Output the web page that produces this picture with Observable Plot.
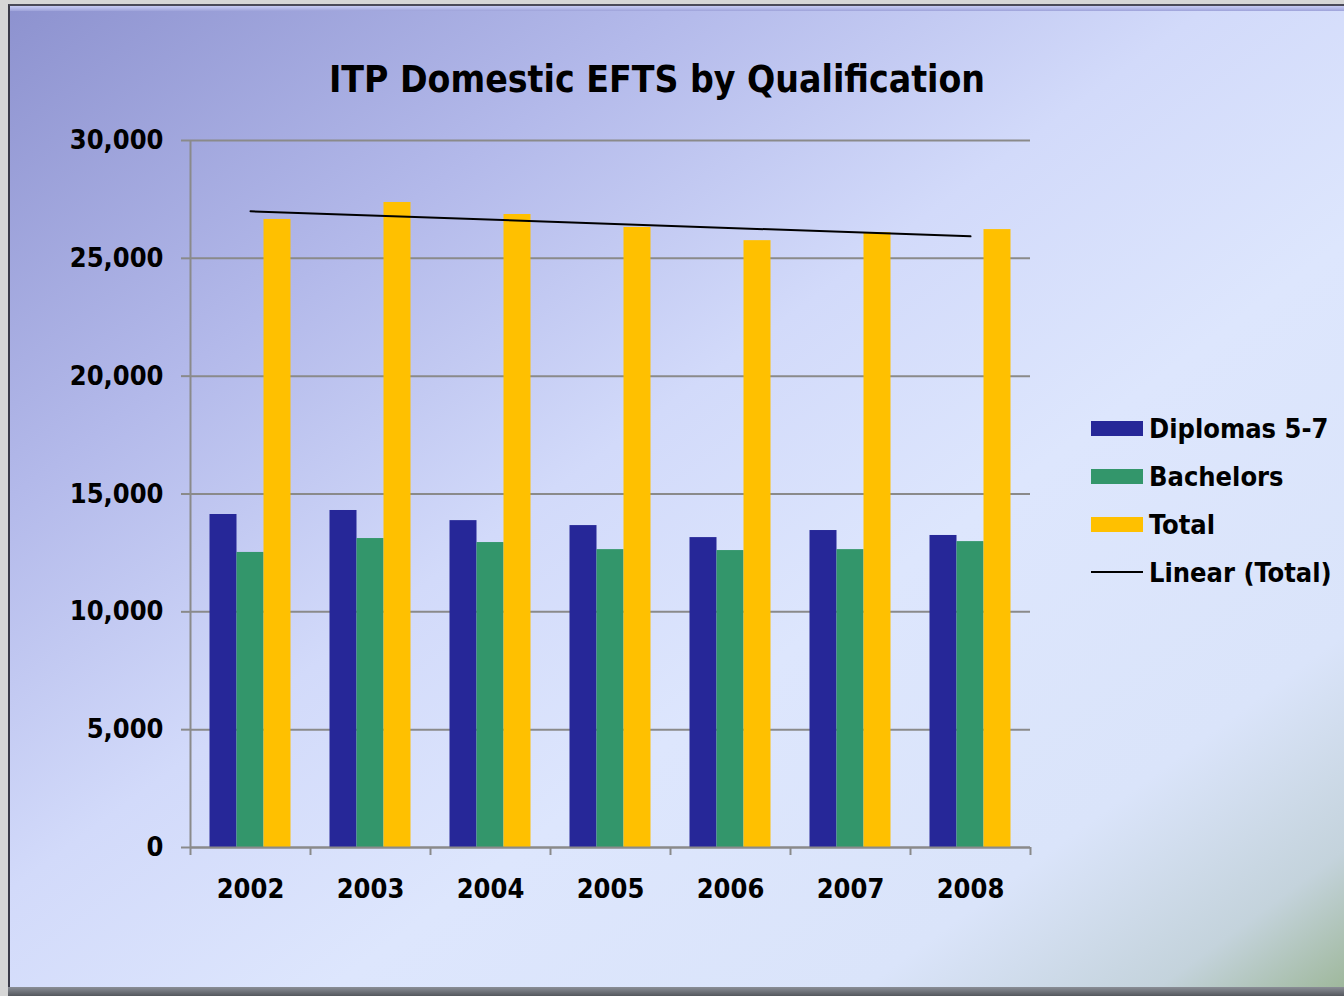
<!DOCTYPE html>
<html><head><meta charset="utf-8">
<script src="https://cdn.jsdelivr.net/npm/d3@7"></script>
<script src="https://cdn.jsdelivr.net/npm/@observablehq/plot@0.6"></script>
<style>
html,body{margin:0;padding:0;}
body{width:1344px;height:996px;position:relative;overflow:hidden;background:#d6d6d6;font-family:"DejaVu Sans Condensed","DejaVu Sans",Verdana,sans-serif;font-stretch:condensed;}
#slide{position:absolute;left:8px;top:4px;width:1336px;height:984px;box-sizing:border-box;
  border-left:2px solid #3a3a48;border-top:2px solid #4a4a58;
  background:linear-gradient(to bottom right,#8d92cf 0%,#b3b9ea 25%,#d2dafa 45%,#dde6fd 62%,#dae4fa 82%,#c4d3dc 93%,#9fb89c 100%);}
#bevel{position:absolute;left:10px;top:6px;width:1334px;height:5px;background:linear-gradient(#c8ccf4,#9ea3da);}
#bottom{position:absolute;left:8px;top:987px;width:1336px;height:9px;background:linear-gradient(#8a8e96,#55585e);}
#title{position:absolute;left:0;width:1314px;top:58px;text-align:center;font-weight:bold;font-size:37px;color:#000;}
#chart{position:absolute;left:0;top:0;}
#legend{position:absolute;left:1091px;top:404px;}
.item{display:flex;align-items:center;height:48px;font-weight:bold;font-size:27px;color:#000;white-space:nowrap;}
.sw{width:52px;height:15px;margin-right:6px;}
.ln{width:52px;height:2px;background:#000;margin-right:6px;}
</style></head>
<body>
<div id="slide"></div>
<div id="bevel"></div>
<div id="bottom"></div>
<div id="title">ITP Domestic EFTS by Qualification</div>
<div id="chart"></div>
<div id="legend"></div>
<script>
const years = [2002, 2003, 2004, 2005, 2006, 2007, 2008];
const series = ["Diplomas 5-7", "Bachelors", "Total"];
const colors = ["#262798", "#33966b", "#ffc000"];
const diplomas = [14130, 14300, 13870, 13660, 13150, 13450, 13240];
const bachelors = [12520, 13110, 12940, 12640, 12600, 12640, 12980];
const total = [26650, 27370, 26860, 26310, 25750, 26090, 26220];
const yTicks = [0, 5000, 10000, 15000, 20000, 25000, 30000];

const values = [diplomas, bachelors, total];
const data = [];
series.forEach((s, i) => years.forEach((y, j) => data.push({year: y, series: s, idx: i, value: values[i][j]})));
const totals = years.map((y, j) => ({year: y, value: total[j]}));

const barW = 0.225;
const xDomain = [years[0] - 0.5, years[years.length - 1] + 0.5];
const bounds = years.map(y => y - 0.5).concat([years[years.length - 1] + 0.5]);
const gridColor = "#8a8a8a";

const plot = Plot.plot({
  width: 1060, height: 960,
  marginLeft: 190, marginRight: 30, marginTop: 140, marginBottom: 113,
  style: {background: "transparent", fontFamily: "'DejaVu Sans Condensed', 'DejaVu Sans', Verdana, sans-serif", fontStretch: "condensed", fontWeight: "bold", fontSize: "27px", color: "#000", overflow: "visible"},
  x: {type: "linear", domain: xDomain},
  y: {domain: [0, 30000]},
  color: {domain: series, range: colors},
  marks: [
    Plot.ruleY(yTicks, {stroke: gridColor, strokeWidth: 2}),
    Plot.axisY({ticks: yTicks, tickSize: 9, tickPadding: 18, stroke: gridColor, strokeWidth: 2, tickFormat: d3.format(","), label: null, fill: "#000"}),
    Plot.axisX({ticks: bounds, tickSize: 8, tickFormat: () => "", stroke: gridColor, strokeWidth: 2, label: null}),
    Plot.axisX({ticks: years, tickSize: 0, tickPadding: 31, tickFormat: d => String(d), label: null, fill: "#000"}),
    Plot.rectY(data, {
      x1: d => d.year + (d.idx - 1.5) * barW,
      x2: d => d.year + (d.idx - 0.5) * barW,
      y1: 0, y2: "value", fill: "series"
    }),
    Plot.ruleX([xDomain[0]], {stroke: gridColor, strokeWidth: 2}),
    Plot.ruleY([0], {stroke: gridColor, strokeWidth: 2}),
    Plot.linearRegressionY(totals, {x: "year", y: "value", ci: 0, stroke: "#000", strokeWidth: 2})
  ]
});
document.getElementById("chart").appendChild(plot);

const legend = document.getElementById("legend");
series.forEach((s, i) => {
  const row = document.createElement("div");
  row.className = "item";
  row.innerHTML = `<div class="sw" style="background:${colors[i]}"></div><span>${s}</span>`;
  legend.appendChild(row);
});
const row = document.createElement("div");
row.className = "item";
row.innerHTML = `<div class="ln"></div><span>Linear (Total)</span>`;
legend.appendChild(row);
</script>
</body></html>
